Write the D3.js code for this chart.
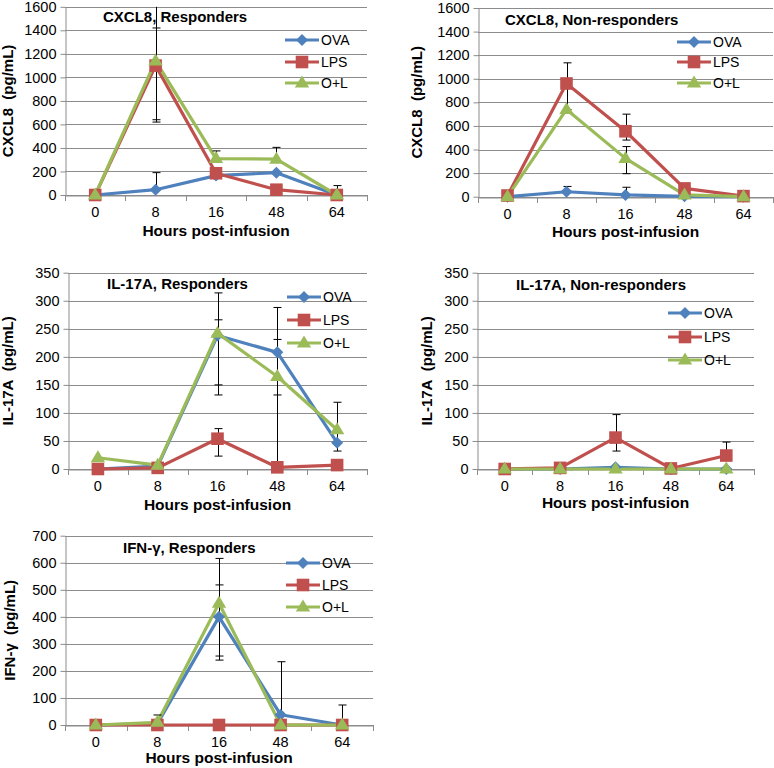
<!DOCTYPE html>
<html><head><meta charset="utf-8">
<script src="https://cdn.jsdelivr.net/npm/d3@7"></script>
<style>
body{margin:0;background:#fff}
svg{display:block}
text{font-family:"Liberation Sans",Arial,Helvetica,sans-serif;fill:#000}
</style>
</head><body>
<svg id="chart" width="774" height="768"></svg>
<script>
// ---------- data ----------
const hours = ["0", "8", "16", "48", "64"];
const seriesNames = ["OVA", "LPS", "O+L"];
const panelTitles = ["CXCL8, Responders", "CXCL8, Non-responders", "IL-17A, Responders", "IL-17A, Non-responders", "IFN-\u03b3, Responders"];
const yLabels = ["CXCL8\u00a0\u00a0(pg/mL)", "CXCL8\u00a0\u00a0(pg/mL)", "IL-17A\u00a0\u00a0(pg/mL)", "IL-17A\u00a0\u00a0(pg/mL)", "IFN-\u03b3\u00a0\u00a0(pg/mL)"];
const xLabel = "Hours post-infusion";
const yMaxes = [1600, 1600, 350, 350, 700];
const ySteps = [200, 200, 50, 50, 100];

// values per series: [OVA, LPS, O+L]
const cxcl8Resp = [[0, 45, 165, 190, 0], [0, 1100, 185, 45, 0], [0, 1140, 310, 305, 0]];
const cxcl8RespErrUp = [[0, 145, 0, 0, 0], [0, 320, 0, 0, 0], [0, 500, 65, 100, 80]];
const cxcl8RespErrDown = [[0, 0, 0, 0, 0], [0, 460, 0, 0, 0], [0, 520, 0, 0, 0]];

const cxcl8Non = [[0, 42, 15, 3, 0], [10, 960, 555, 70, 5], [0, 740, 325, 15, 0]];
const cxcl8NonErrUp = [[0, 45, 65, 0, 0], [0, 175, 145, 0, 0], [0, 0, 100, 0, 0]];
const cxcl8NonErrDown = [[0, 0, 0, 0, 0], [0, 220, 75, 0, 0], [0, 0, 130, 0, 0]];

const il17Resp = [[0, 5, 238, 208, 47], [0, 2, 54, 3, 7], [20, 7, 242, 165, 70]];
const il17RespErrUp = [[0, 0, 76, 80, 0], [0, 0, 18, 0, 0], [0, 0, 24, 66, 49]];
const il17RespErrDown = [[0, 0, 106, 208, 0], [0, 0, 31, 0, 0], [0, 0, 92, 33, 38]];

const il17Non = [[0, 0, 3, 0, 0], [0, 2, 56, 1, 24], [0, 0, 0, 0, 0]];
const il17NonErrUp = [[0, 0, 0, 0, 0], [0, 0, 41, 0, 24], [0, 0, 0, 0, 0]];
const il17NonErrDown = [[0, 0, 0, 0, 0], [0, 0, 24, 0, 0], [0, 0, 0, 0, 0]];

const ifngResp = [[0, 5, 400, 38, 0], [0, 0, 0, 0, 0], [0, 10, 450, 0, 0]];
const ifngRespErrUp = [[0, 0, 118, 196, 74], [0, 0, 0, 0, 0], [0, 27, 166, 0, 0]];
const ifngRespErrDown = [[0, 0, 160, 0, 0], [0, 0, 0, 0, 0], [0, 0, 195, 0, 0]];

// ---------- styling / layout ----------
const colors = ["#4F81BD", "#C0504D", "#9BBB59"];
const gridColor = "#8c8c8c";
const layouts = [
  {left: 65, right: 367, top: 6.8, bottom: 195, titleX: 103, titleY: 22, legX: 285, legY: [40, 62, 83], yLabX: 13, xTitleOff: 41},
  {left: 478, right: 773, top: 8, bottom: 196.7, titleX: 505, titleY: 25, legX: 677, legY: [42, 62, 83], yLabX: 422, xTitleOff: 40},
  {left: 68, right: 367, top: 272.7, bottom: 469, titleX: 107, titleY: 289, legX: 287, legY: [297, 320, 343], yLabX: 13, xTitleOff: 41},
  {left: 477, right: 754, top: 272.7, bottom: 469, titleX: 516, titleY: 290, legX: 668, legY: [313, 337, 360], yLabX: 432, xTitleOff: 39},
  {left: 65, right: 373, top: 535.7, bottom: 725, titleX: 123, titleY: 553, legX: 286, legY: [563, 585, 607], yLabX: 15, xTitleOff: 38}
];
const panelData = [
  [cxcl8Resp, cxcl8RespErrUp, cxcl8RespErrDown],
  [cxcl8Non, cxcl8NonErrUp, cxcl8NonErrDown],
  [il17Resp, il17RespErrUp, il17RespErrDown],
  [il17Non, il17NonErrUp, il17NonErrDown],
  [ifngResp, ifngRespErrUp, ifngRespErrDown]
];

const svg = d3.select("#chart");

function markerPath(i, cx, cy) {
  if (i === 0) { // diamond
    const r = 6;
    return `M${cx},${cy - r}L${cx + r},${cy}L${cx},${cy + r}L${cx - r},${cy}Z`;
  } else if (i === 1) { // square
    const h = 6.3;
    return `M${cx - h},${cy - h}H${cx + h}V${cy + h}H${cx - h}Z`;
  } else { // triangle
    const w = 7.2, h = 12;
    return `M${cx},${cy - h * 0.62}L${cx + w},${cy + h * 0.38}L${cx - w},${cy + h * 0.38}Z`;
  }
}

panelData.forEach((pd, p) => {
  const L = layouts[p];
  const [vals, errUp, errDown] = pd;
  const yMax = yMaxes[p], step = ySteps[p];
  const x = d3.scaleBand().domain(hours).range([L.left, L.right]);
  const y = d3.scaleLinear().domain([0, yMax]).range([L.bottom, L.top]);
  const bw = x.bandwidth();
  const cx = h => x(h) + bw / 2;
  const g = svg.append("g");
  const ticks = d3.range(0, yMax + step / 2, step);

  // gridlines
  g.append("g").selectAll("line").data(ticks).join("line")
    .attr("x1", L.left).attr("x2", L.right)
    .attr("y1", d => Math.round(y(d)) + 0.5).attr("y2", d => Math.round(y(d)) + 0.5)
    .attr("stroke", gridColor).attr("stroke-width", 1);

  // y axis
  const ya = g.append("g").attr("transform", `translate(${L.left + 0.5},0)`)
    .call(d3.axisLeft(y).tickValues(ticks).tickSize(5).tickSizeOuter(0).tickPadding(4).tickFormat(d3.format("d")));
  ya.select(".domain").attr("stroke", gridColor);
  ya.selectAll(".tick line").attr("stroke", gridColor);
  ya.selectAll(".tick text").style("font-size", "14.5px").attr("fill", "#000");

  // x axis
  const xa = g.append("g").attr("transform", `translate(0,${Math.round(L.bottom) + 0.5})`)
    .call(d3.axisBottom(x).tickSize(0).tickSizeOuter(0).tickPadding(11));
  xa.select(".domain").attr("stroke", gridColor);
  xa.selectAll(".tick text").style("font-size", "14.5px").attr("fill", "#000");
  g.append("g").selectAll("line").data(d3.range(hours.length + 1)).join("line")
    .attr("x1", i => Math.round(L.left + i * bw) + 0.5).attr("x2", i => Math.round(L.left + i * bw) + 0.5)
    .attr("y1", Math.round(L.bottom)).attr("y2", Math.round(L.bottom) + 6)
    .attr("stroke", gridColor);

  // axis titles
  g.append("text").attr("x", (L.left + L.right) / 2).attr("y", L.bottom + L.xTitleOff)
    .attr("text-anchor", "middle").style("font-size", "15.5px").style("font-weight", "bold").text(xLabel);
  g.append("text").attr("transform", `translate(${L.yLabX},${(L.top + L.bottom) / 2}) rotate(-90)`)
    .attr("text-anchor", "middle").style("font-size", "15px").style("font-weight", "bold").text(yLabels[p]);

  // panel title
  g.append("text").attr("x", L.titleX).attr("y", L.titleY)
    .style("font-size", "15px").style("font-weight", "bold").text(panelTitles[p]);

  // lines
  const line = d3.line().x((d, i) => cx(hours[i])).y(d => y(d));
  vals.forEach((s, si) => {
    g.append("path").datum(s).attr("d", line).attr("fill", "none")
      .attr("stroke", colors[si]).attr("stroke-width", 3.2).attr("stroke-linejoin", "round");
  });

  // error bars
  vals.forEach((s, si) => {
    s.forEach((v, i) => {
      const up = errUp[si][i], dn = errDown[si][i];
      if (!up && !dn) return;
      const hi = v + up, lo = Math.max(0, v - dn);
      const X = Math.round(cx(hours[i])) + 0.5;
      g.append("line").attr("x1", X).attr("x2", X)
        .attr("y1", y(Math.min(hi, yMax))).attr("y2", y(lo))
        .attr("stroke", "#000").attr("stroke-width", 1);
      if (up && hi <= yMax) {
        g.append("line").attr("x1", X - 4).attr("x2", X + 4).attr("y1", y(hi)).attr("y2", y(hi))
          .attr("stroke", "#000").attr("stroke-width", 1);
      }
      if (dn) {
        g.append("line").attr("x1", X - 4).attr("x2", X + 4).attr("y1", y(lo)).attr("y2", y(lo))
          .attr("stroke", "#000").attr("stroke-width", 1);
      }
    });
  });

  // markers
  vals.forEach((s, si) => {
    g.append("g").selectAll("path").data(s).join("path")
      .attr("d", (d, i) => markerPath(si, cx(hours[i]), y(d)))
      .attr("fill", colors[si]);
  });

  // legend
  seriesNames.forEach((name, si) => {
    const ly = L.legY[si];
    g.append("line").attr("x1", L.legX).attr("x2", L.legX + 34).attr("y1", ly).attr("y2", ly)
      .attr("stroke", colors[si]).attr("stroke-width", 3.2);
    g.append("path").attr("d", markerPath(si, L.legX + 17, ly)).attr("fill", colors[si]);
    g.append("text").attr("x", L.legX + 36).attr("y", ly).attr("dy", "0.36em")
      .style("font-size", "14px").text(name);
  });
});
</script>
</body></html>
